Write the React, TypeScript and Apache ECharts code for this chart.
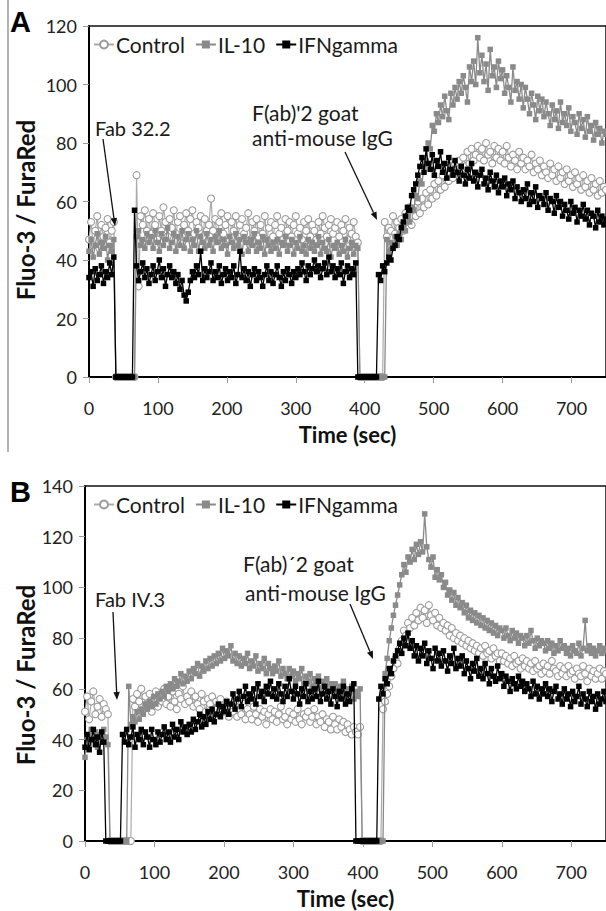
import React, { useEffect, useRef } from "react";
import * as echarts from "echarts";

// sampling step of the traces (seconds); each row below = 30 s
const STEP = 3;
const xTickLabels = [0, 100, 200, 300, 400, 500, 600, 700];
const yTicksA = [0, 20, 40, 60, 80, 100, 120];
const yTicksB = [0, 20, 40, 60, 80, 100, 120, 140];
const seriesNames = ["Control", "IL-10", "IFNgamma"];

// ---------- Panel A ----------
const ctrlA = [
  47, 53, 45, 50, 55, 44, 52, 48, 51, 54,
  46, 50, 53, 0, 0, 0, 0, 0, 0, 0,
  0, 0, 0, 69, 31, 55, 52, 57, 50, 54,
  49, 56, 52, 47, 55, 50, 58, 53, 48, 54,
  51, 57, 49, 53, 55, 48, 52, 56, 50, 54,
  57, 49, 53, 51, 55, 48, 54, 50, 52, 61,
  50, 54, 48, 53, 56, 49, 52, 55, 47, 53,
  50, 55, 48, 52, 54, 49, 51, 56, 47, 53,
  50, 54, 48, 52, 49, 55, 47, 51, 53, 48,
  52, 55, 49, 51, 47, 54, 50, 53, 48, 52,
  55, 49, 51, 47, 53, 50, 54, 48, 52, 50,
  47, 53, 49, 55, 51, 48, 52, 54, 49, 51,
  53, 48, 52, 50, 54, 47, 51, 49, 53, 48,
  46, 0, 0, 0, 0, 0, 0, 0, 0, 0,
  0, 0, 0, 53, 48, 51, 50, 55, 49, 53,
  51, 54, 50, 56, 53, 58, 52, 57, 55, 60,
  56, 61, 58, 63, 59, 64, 61, 66, 62, 67,
  64, 69, 65, 70, 67, 72, 68, 73, 70, 74,
  71, 75, 72, 77, 73, 78, 74, 76, 79, 75,
  78, 74, 80, 76, 77, 73, 79, 75, 78, 74,
  77, 73, 79, 75, 72, 76, 74, 71, 77, 73,
  75, 71, 74, 72, 76, 70, 73, 71, 74, 69,
  72, 70, 68, 73, 69, 71, 67, 72, 68, 70,
  66, 71, 67, 69, 65, 70, 66, 68, 64, 69,
  65, 67, 63, 68, 64, 66, 62, 67, 63, 65,
  64,
];
const il10A = [
  43, 47, 41, 45, 49, 42, 46, 44, 48, 40,
  45, 43, 47, 0, 0, 0, 0, 0, 0, 0,
  0, 0, 0, 48, 50, 45, 47, 44, 49, 46,
  48, 44, 50, 46, 43, 49, 45, 47, 51, 44,
  46, 49, 43, 48, 45, 50, 44, 47, 49, 43,
  47, 45, 50, 43, 48, 46, 44, 49, 45, 47,
  43, 48, 46, 50, 44, 47, 45, 42, 48, 46,
  44, 49, 45, 47, 42, 48, 46, 43, 47, 45,
  49, 43, 46, 44, 48, 42, 47, 45, 43, 46,
  44, 47, 42, 46, 45, 48, 43, 45, 47, 42,
  46, 44, 48, 43, 45, 42, 47, 44, 46, 43,
  45, 48, 42, 46, 44, 43, 47, 41, 45, 44,
  46, 42, 45, 43, 47, 41, 44, 46, 42, 45,
  44, 0, 0, 0, 0, 0, 0, 0, 0, 0,
  0, 0, 0, 0, 47, 43, 46, 44, 48, 45,
  49, 47, 52, 50, 55, 53, 58, 57, 62, 61,
  67, 66, 72, 74, 80, 78, 86, 84, 90, 87,
  93, 89, 96, 91, 88, 97, 93, 99, 95, 101,
  97, 103, 99, 94, 106, 101, 108, 100, 116, 104,
  110, 101, 107, 98, 112, 103, 106, 99, 108, 102,
  105, 97, 103, 99, 94, 106, 98, 101, 95, 100,
  92, 99, 95, 90, 97, 93, 88, 96, 91, 95,
  89, 94, 90, 86, 93, 88, 91, 85, 94, 87,
  90, 86, 92, 84, 89, 87, 83, 90, 85, 88,
  82, 89, 84, 86, 81, 87, 83, 85, 80, 84,
  83,
];
const ifnA = [
  34, 36, 31, 37, 33, 35, 38, 32, 36, 34,
  39, 35, 41, 0, 0, 0, 0, 0, 0, 0,
  0, 0, 57, 38, 33, 36, 39, 34, 37, 32,
  35, 38, 33, 36, 40, 34, 37, 31, 35, 38,
  34, 36, 32, 35, 30, 33, 28, 26, 29, 33,
  36, 34, 38, 35, 43, 33, 37, 34, 36, 39,
  33, 36, 34, 38, 32, 35, 37, 33, 36, 34,
  38, 32, 35, 43, 34, 37, 33, 36, 31, 35,
  37, 33, 36, 34, 31, 35, 38, 33, 36, 32,
  35, 38, 34, 31, 36, 33, 37, 35, 32, 36,
  34, 37, 35, 39, 36, 33, 38, 35, 37, 40,
  36, 38, 34, 37, 39, 35, 41, 36, 38, 34,
  37, 35, 39, 32, 36, 38, 34, 37, 35, 39,
  0, 0, 0, 0, 0, 0, 0, 0, 0, 0,
  35, 33, 38, 36, 39, 41, 40, 44, 45, 48,
  47, 51, 53, 55, 58, 57, 62, 64, 66, 69,
  72, 75, 70, 78, 73, 71, 76, 69, 74, 72,
  77, 70, 73, 68, 75, 71, 69, 74, 70, 67,
  72, 69, 66, 71, 68, 73, 67, 70, 65, 69,
  71, 66, 68, 64, 70, 67, 65, 69, 63, 67,
  65, 68, 62, 66, 64, 67, 61, 65, 63, 60,
  64, 61, 66, 59, 63, 60, 65, 58, 62, 61,
  59, 63, 57, 61, 60, 56, 62, 58, 60, 55,
  59, 57, 54, 60, 56, 58, 53, 57, 55, 59,
  54, 57, 52, 56, 55, 51, 57, 53, 55, 52,
  54,
];

// ---------- Panel B ----------
const ctrlB = [
  51, 57, 48, 55, 59, 50, 53, 56, 49, 54,
  52, 50, 0, 0, 0, 0, 0, 0, 0, 0,
  0, 0, 0, 56, 53, 58, 55, 60, 52, 57,
  54, 58, 51, 56, 59, 53, 57, 55, 60, 54,
  57, 53, 59, 55, 52, 58, 56, 61, 54, 57,
  55, 59, 53, 57, 54, 52, 58, 55, 51, 56,
  54, 57, 52, 55, 50, 56, 53, 51, 55, 49,
  53, 51, 55, 49, 52, 50, 54, 48, 52, 50,
  48, 53, 50, 47, 52, 49, 51, 46, 50, 52,
  48, 51, 47, 50, 53, 48, 49, 46, 51, 48,
  50, 47, 52, 48, 46, 50, 49, 51, 47, 49,
  52, 46, 49, 47, 50, 45, 48, 47, 44, 49,
  46, 44, 48, 45, 47, 43, 46, 44, 42, 45,
  43, 42, 45, 0, 0, 0, 0, 0, 0, 0,
  0, 0, 0, 52, 55, 58, 61, 65, 68, 72,
  70, 76, 79, 83, 81, 86, 84, 88, 85, 90,
  87, 92, 88, 91, 86, 93, 89, 87, 90, 85,
  88, 84, 86, 83, 85, 81, 84, 80, 82, 79,
  81, 78, 80, 77, 79, 76, 78, 75, 77, 74,
  76, 73, 77, 74, 75, 72, 76, 73, 74, 71,
  74, 71, 73, 70, 72, 69, 73, 70, 71, 68,
  72, 69, 71, 68, 70, 67, 71, 68, 69, 66,
  70, 67, 69, 66, 71, 68, 67, 65, 69, 66,
  68, 65, 69, 66, 67, 64, 68, 66, 65, 69,
  66, 63, 68, 65, 67, 64, 66, 68, 64, 67,
  66,
];
const il10B = [
  33, 41, 38, 44, 40, 43, 37, 42, 39, 44,
  41, 38, 0, 0, 0, 0, 0, 0, 0, 0,
  0, 61, 46, 49, 47, 51, 48, 52, 50, 54,
  52, 55, 53, 57, 54, 58, 56, 59, 57, 61,
  59, 62, 60, 64, 61, 63, 66, 62, 65, 63,
  67, 64, 68, 66, 70, 65, 69, 67, 71, 68,
  72, 69, 73, 70, 74, 71, 76, 72, 75, 73,
  77, 71, 74, 70, 73, 69, 72, 70, 74, 68,
  71, 69, 73, 67, 70, 68, 72, 66, 70, 68,
  66, 69, 67, 71, 65, 68, 66, 64, 68, 65,
  67, 63, 66, 64, 68, 62, 65, 63, 66, 61,
  64, 62, 65, 60, 63, 61, 64, 59, 62, 60,
  62, 58, 61, 59, 63, 57, 60, 58, 61, 56,
  59, 57, 60, 0, 0, 0, 0, 0, 0, 0,
  0, 0, 0, 0, 66, 72, 79, 84, 89, 93,
  97, 101, 105, 109, 106, 112, 110, 115, 111, 117,
  113, 118, 114, 129, 116, 111, 108, 112, 104, 107,
  103, 105, 100, 102, 97, 99, 95, 98, 93, 96,
  92, 94, 90, 93, 88, 91, 87, 90, 86, 89,
  85, 88, 84, 87, 83, 86, 82, 85, 81, 84,
  83, 80, 84, 81, 79, 83, 80, 82, 78, 81,
  80, 77, 81, 78, 83, 79, 76, 80, 77, 79,
  78, 75, 79, 76, 78, 74, 77, 75, 79, 76,
  77, 74, 76, 73, 77, 75, 74, 78, 73, 76,
  87, 75, 77, 74, 76, 73, 75, 77, 74, 76,
  75,
];
const ifnB = [
  37, 42, 36, 40, 44, 38, 41, 35, 43, 39,
  0, 0, 0, 0, 0, 0, 0, 0, 42, 39,
  44, 38, 41, 45, 37, 42, 40, 44, 38, 43,
  41, 37, 44, 40, 38, 43, 39, 42, 45, 40,
  43, 39, 46, 41, 44, 40, 47, 43, 45, 42,
  46, 43, 48, 44, 47, 50, 45, 49, 46, 51,
  48, 52, 47, 50, 54, 49, 53, 51, 55, 50,
  54, 58, 52, 56, 59, 53, 57, 61, 55, 58,
  56, 60, 54, 62, 57, 59, 55, 61, 58, 63,
  57, 60, 56, 62, 58, 55, 61, 57, 64, 59,
  56, 61, 58, 54, 60, 57, 62, 55, 59, 56,
  60, 57, 63, 55, 58, 61, 56, 59, 54, 60,
  57, 53, 59, 56, 61, 54, 58, 55, 60, 62,
  0, 0, 0, 0, 0, 0, 0, 0, 0, 0,
  0, 56, 61, 58, 64, 62, 68, 66, 71, 73,
  75, 78, 74, 80, 77, 82, 76, 79, 73, 77,
  71, 76, 73, 78, 70, 75, 72, 68, 76, 71,
  74, 69, 75, 71, 67, 73, 70, 76, 68, 72,
  69, 73, 66, 71, 68, 64, 70, 67, 72, 65,
  68, 64, 70, 66, 62, 68, 65, 63, 69, 64,
  66, 61, 65, 63, 59, 64, 62, 60, 65, 61,
  63, 59, 62, 60, 57, 63, 58, 61, 56, 60,
  58, 62, 57, 60, 55, 59, 61, 56, 58, 54,
  60, 56, 58, 53, 59, 55, 57, 61, 54, 58,
  56, 53, 59, 55, 57, 52, 58, 54, 56, 59,
  55,
];

const FONT = "Lato, 'Open Sans', sans-serif";
const CTRL_LINE = "#ababab";
const IL10_COLOR = "#8a8a8a";

function toPairs(vals: number[]) {
  return vals.map((v, i) => [i * STEP, v]);
}

function arrow(x1: number, y1: number, x2: number, y2: number) {
  const a = Math.atan2(y2 - y1, x2 - x1);
  const L = 8, W = 3.2;
  const bx = x2 - L * Math.cos(a), by = y2 - L * Math.sin(a);
  const px = -Math.sin(a) * W, py = Math.cos(a) * W;
  return [
    { type: "line", shape: { x1, y1, x2: bx, y2: by }, style: { stroke: "#111", lineWidth: 1.3 }, z: 100 },
    {
      type: "polygon",
      shape: { points: [[x2, y2], [bx + px, by + py], [bx - px, by - py]] },
      style: { fill: "#111" },
      z: 100,
    },
  ];
}

function txt(text: string, x: number, y: number, size: number, opts: any = {}) {
  return {
    type: "text",
    x,
    y,
    rotation: opts.rotation || 0,
    z: 100,
    style: {
      text,
      fill: opts.fill || "#1a1a1a",
      font: `${opts.bold ? "bold " : ""}${size}px ${opts.family || FONT}`,
      textAlign: opts.align || "left",
      textVerticalAlign: "middle",
      align: opts.align || "left",
      verticalAlign: "middle",
    },
  };
}

function seriesFor(gi: number, ctrl: number[], il10: number[], ifn: number[]) {
  return [
    {
      type: "line",
      name: seriesNames[0],
      xAxisIndex: gi,
      yAxisIndex: gi,
      data: toPairs(ctrl),
      symbol: "circle",
      symbolSize: 7,
      showAllSymbol: true,
      lineStyle: { color: CTRL_LINE, width: 1.2 },
      itemStyle: { color: "#ffffff", borderColor: "#9c9c9c", borderWidth: 1.1 },
      z: 2,
    },
    {
      type: "line",
      name: seriesNames[1],
      xAxisIndex: gi,
      yAxisIndex: gi,
      data: toPairs(il10),
      symbol: "rect",
      symbolSize: 5.5,
      showAllSymbol: true,
      lineStyle: { color: IL10_COLOR, width: 1.3 },
      itemStyle: { color: IL10_COLOR },
      z: 3,
    },
    {
      type: "line",
      name: seriesNames[2],
      xAxisIndex: gi,
      yAxisIndex: gi,
      data: toPairs(ifn),
      symbol: "rect",
      symbolSize: 5.5,
      showAllSymbol: true,
      lineStyle: { color: "#000000", width: 1.3 },
      itemStyle: { color: "#000000" },
      z: 4,
    },
  ];
}

function xAxisFor(gi: number) {
  return {
    type: "value",
    gridIndex: gi,
    min: 0,
    max: 750,
    interval: 100,
    name: "Time (sec)",
    nameLocation: "middle",
    nameGap: 46,
    nameTextStyle: { fontFamily: FONT, fontWeight: "bold", fontSize: 22, color: "#111" },
    axisLine: { show: true, lineStyle: { color: "#000", width: 2 } },
    axisTick: { show: true, length: 6, lineStyle: { color: "#9a9a9a", width: 1 } },
    axisLabel: {
      margin: 22,
      fontFamily: FONT,
      fontSize: 18,
      color: "#222",
      showMaxLabel: false,
      formatter: (v: number) => (xTickLabels.indexOf(v) >= 0 ? String(v) : ""),
    },
    splitLine: { show: false },
  };
}

function yAxisFor(gi: number, ticks: number[]) {
  return {
    type: "value",
    gridIndex: gi,
    min: ticks[0],
    max: ticks[ticks.length - 1],
    interval: ticks[1] - ticks[0],
    axisLine: { show: true, lineStyle: { color: "#000", width: 2 } },
    axisTick: { show: true, length: 6, lineStyle: { color: "#9a9a9a", width: 1 } },
    axisLabel: { margin: 12, fontFamily: FONT, fontSize: 18, color: "#222" },
    splitLine: { show: false },
  };
}

function legendFor(top: number) {
  return {
    top,
    left: 93,
    padding: 0,
    itemGap: 10,
    itemWidth: 20,
    itemHeight: 10,
    data: seriesNames,
    selectedMode: false,
    textStyle: { fontFamily: FONT, fontSize: 21, color: "#1a1a1a", padding: [0, 0, 0, -3] },
  };
}

export default function App() {
  const ref = useRef<HTMLDivElement>(null);

  useEffect(() => {
    if (!ref.current) return;
    const chart = echarts.init(ref.current, null, { renderer: "svg" });

    const graphic: any[] = [
      { type: "line", shape: { x1: 8, y1: 0, x2: 8, y2: 452 }, style: { stroke: "#9a9a9a", lineWidth: 1.5 } },
      txt("A", 10, 22, 29, { bold: true, family: "'Liberation Sans', Arial, sans-serif", fill: "#000" }),
      txt("B", 10, 492, 29, { bold: true, family: "'Liberation Sans', Arial, sans-serif", fill: "#000" }),
      txt("Fluo-3 / FuraRed", 25, 210, 24, { bold: true, align: "center", rotation: Math.PI / 2, fill: "#111" }),
      txt("Fluo-3 / FuraRed", 25, 675, 24, { bold: true, align: "center", rotation: Math.PI / 2, fill: "#111" }),
      txt("Fab 32.2", 95, 128, 20),
      txt("F(ab)'2 goat", 252, 112, 21),
      txt("anti-mouse IgG", 252, 137, 21),
      ...arrow(103, 139, 115, 226),
      ...arrow(345, 152, 377, 220),
      txt("Fab IV.3", 95, 599, 20),
      txt("F(ab)\u00b42 goat", 243, 563, 21),
      txt("anti-mouse IgG", 245, 592, 21),
      ...arrow(113, 612, 117, 700),
      ...arrow(350, 604, 373, 659),
    ];

    chart.setOption({
      animation: false,
      backgroundColor: "#ffffff",
      grid: [
        { left: 89, top: 26, width: 517, height: 351, show: true, borderColor: "#111", borderWidth: 1.5, backgroundColor: "transparent" },
        { left: 85, top: 486, width: 521, height: 355, show: true, borderColor: "#111", borderWidth: 1.5, backgroundColor: "transparent" },
      ],
      xAxis: [xAxisFor(0), xAxisFor(1)],
      yAxis: [yAxisFor(0, yTicksA), yAxisFor(1, yTicksB)],
      legend: [legendFor(34), legendFor(494)],
      series: [...seriesFor(0, ctrlA, il10A, ifnA), ...seriesFor(1, ctrlB, il10B, ifnB)],
      graphic,
    });

    return () => chart.dispose();
  }, []);

  return (
    <div
      ref={ref}
      style={{ position: "fixed", left: 0, top: 0, width: 606, height: 911, background: "#fff" }}
    />
  );
}
